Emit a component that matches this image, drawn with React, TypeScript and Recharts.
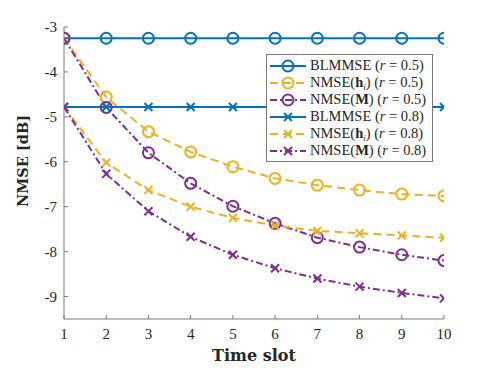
import React from 'react';
import { LineChart, Line, XAxis, YAxis, Legend, Label } from 'recharts';

const timeSlots = [1, 2, 3, 4, 5, 6, 7, 8, 9, 10];
const blmmse05 = [-3.25, -3.25, -3.25, -3.25, -3.25, -3.25, -3.25, -3.25, -3.25, -3.25];
const nmseH05 = [-3.25, -4.56, -5.33, -5.78, -6.11, -6.37, -6.52, -6.63, -6.72, -6.76];
const nmseM05 = [-3.25, -4.79, -5.8, -6.48, -6.99, -7.37, -7.69, -7.9, -8.07, -8.2];
const blmmse08 = [-4.78, -4.78, -4.78, -4.78, -4.78, -4.78, -4.78, -4.78, -4.78, -4.78];
const nmseH08 = [-4.78, -6.02, -6.63, -7.0, -7.25, -7.42, -7.54, -7.59, -7.64, -7.69];
const nmseM08 = [-4.78, -6.27, -7.1, -7.67, -8.07, -8.37, -8.6, -8.78, -8.92, -9.04];

const xTicks = [1, 2, 3, 4, 5, 6, 7, 8, 9, 10];
const yTicks = [-9, -8, -7, -6, -5, -4, -3];

const data = timeSlots.map((t, i) => ({
  t,
  b05: blmmse05[i],
  h05: nmseH05[i],
  m05: nmseM05[i],
  b08: blmmse08[i],
  h08: nmseH08[i],
  m08: nmseM08[i],
}));

const BLUE = '#0072BD';
const YELLOW = '#EDB120';
const PURPLE = '#7E2F8E';
const AXIS = '#7a7a7a';
const TEXT = '#262626';
const FONT = '"Liberation Serif", serif';
const BOLD_FONT = '"DejaVu Serif", serif';

type SeriesDef = {
  key: string;
  color: string;
  dash?: string;
  marker: 'o' | 'x';
  name: string;
  r: string;
};

const series: SeriesDef[] = [
  { key: 'b05', color: BLUE, marker: 'o', name: 'BLMMSE', r: '0.5' },
  { key: 'h05', color: YELLOW, dash: '8 5', marker: 'o', name: 'h', r: '0.5' },
  { key: 'm05', color: PURPLE, dash: '7 3 2 3', marker: 'o', name: 'M', r: '0.5' },
  { key: 'b08', color: BLUE, marker: 'x', name: 'BLMMSE', r: '0.8' },
  { key: 'h08', color: YELLOW, dash: '8 5', marker: 'x', name: 'h', r: '0.8' },
  { key: 'm08', color: PURPLE, dash: '7 3 2 3', marker: 'x', name: 'M', r: '0.8' },
];

const MarkerShape = ({ cx, cy, color, marker }: any) => {
  if (cx == null || cy == null) return null;
  if (marker === 'o') {
    return <circle cx={cx} cy={cy} r={5.5} fill="none" stroke={color} strokeWidth={2} />;
  }
  const s = 4;
  return (
    <g stroke={color} strokeWidth={2}>
      <line x1={cx - s} y1={cy - s} x2={cx + s} y2={cy + s} />
      <line x1={cx - s} y1={cy + s} x2={cx + s} y2={cy - s} />
    </g>
  );
};

const BottomTick = (props: any) => {
  const { x, y, payload } = props;
  return (
    <g>
      <line x1={x} x2={x} y1={y} y2={y - 4} stroke={AXIS} strokeWidth={1} />
      <text x={x} y={y + 20} textAnchor="middle" fontFamily={FONT} fontSize={15} fill={TEXT}>
        {payload.value}
      </text>
    </g>
  );
};

const TopTick = (props: any) => {
  const { x, y } = props;
  return <line x1={x} x2={x} y1={y} y2={y + 4} stroke={AXIS} strokeWidth={1} />;
};

const LeftTick = (props: any) => {
  const { x, y, payload } = props;
  return (
    <g>
      <line x1={x} x2={x + 4} y1={y} y2={y} stroke={AXIS} strokeWidth={1} />
      <text x={x - 7} y={y + 5} textAnchor="end" fontFamily={FONT} fontSize={15} fill={TEXT}>
        {payload.value}
      </text>
    </g>
  );
};

const RightTick = (props: any) => {
  const { x, y } = props;
  return <line x1={x} x2={x - 4} y1={y} y2={y} stroke={AXIS} strokeWidth={1} />;
};

const LegendSample = ({ s }: { s: SeriesDef }) => (
  <svg width={38} height={16} style={{ display: 'block', flex: 'none' }}>
    <line x1={1} x2={37} y1={8} y2={8} stroke={s.color} strokeWidth={2} strokeDasharray={s.dash} />
    <MarkerShape cx={19} cy={8} color={s.color} marker={s.marker} />
  </svg>
);

const LegendLabel = ({ s }: { s: SeriesDef }) => {
  let main: React.ReactNode;
  if (s.name === 'BLMMSE') main = <span>BLMMSE</span>;
  else if (s.name === 'h')
    main = (
      <span>
        NMSE(<b>h</b>
        <sub style={{ fontStyle: 'italic', fontSize: 9, verticalAlign: -3 }}>i</sub>)
      </span>
    );
  else
    main = (
      <span>
        NMSE(<b>M</b>)
      </span>
    );
  return (
    <span style={{ whiteSpace: 'pre' }}>
      {main} (<i>r</i> = {s.r})
    </span>
  );
};

const LegendBox = () => (
  <div
    style={{
      width: 167,
      height: 108,
      boxSizing: 'border-box',
      border: `1px solid ${AXIS}`,
      background: '#fff',
      padding: '2px 0 0 2px',
      fontFamily: FONT,
      fontSize: 14.5,
      color: TEXT,
    }}
  >
    {series.map((s) => (
      <div key={s.key} style={{ display: 'flex', alignItems: 'center', height: 17, gap: 3 }}>
        <LegendSample s={s} />
        <LegendLabel s={s} />
      </div>
    ))}
  </div>
);

export default function App() {
  return (
    <div style={{ position: 'absolute', left: 0, top: 0, width: 491, height: 368, background: '#fff' }}>
      <LineChart
        width={491}
        height={368}
        data={data}
        margin={{ top: 27, right: 47, bottom: 0, left: 0 }}
      >
        <XAxis
          dataKey="t"
          type="number"
          domain={[1, 10]}
          ticks={xTicks}
          allowDataOverflow
          height={49}
          tickSize={0}
          tickMargin={0}
          tickLine={false}
          axisLine={{ stroke: AXIS }}
          tick={<BottomTick />}
          interval={0}
        >
          <Label
            content={(p: any) => {
              const vb = p.viewBox;
              return (
                <text
                  x={vb.x + vb.width / 2}
                  y={361}
                  textAnchor="middle"
                  fontFamily={BOLD_FONT}
                  fontWeight="bold"
                  fontSize={16}
                  fill={TEXT}
                >
                  Time slot
                </text>
              );
            }}
          />
        </XAxis>
        <XAxis
          xAxisId="top"
          orientation="top"
          dataKey="t"
          type="number"
          domain={[1, 10]}
          ticks={xTicks}
          allowDataOverflow
          height={0}
          tickSize={0}
          tickMargin={0}
          tickLine={false}
          axisLine={{ stroke: AXIS }}
          tick={<TopTick />}
          interval={0}
        />
        <YAxis
          type="number"
          domain={[-9.5, -3]}
          ticks={yTicks}
          allowDataOverflow
          width={64}
          tickSize={0}
          tickMargin={0}
          tickLine={false}
          axisLine={{ stroke: AXIS }}
          tick={<LeftTick />}
          interval={0}
        >
          <Label
            content={() => (
              <text
                x={0}
                y={0}
                transform="translate(28 161) rotate(-90)"
                textAnchor="middle"
                fontFamily={BOLD_FONT}
                fontWeight="bold"
                fontSize={14.5}
                fill={TEXT}
              >
                NMSE [dB]
              </text>
            )}
          />
        </YAxis>
        <YAxis
          yAxisId="right"
          orientation="right"
          type="number"
          domain={[-9.5, -3]}
          ticks={yTicks}
          allowDataOverflow
          width={0}
          tickSize={0}
          tickMargin={0}
          tickLine={false}
          axisLine={{ stroke: AXIS }}
          tick={<RightTick />}
          interval={0}
        />
        {series.map((s) => (
          <Line
            key={s.key}
            dataKey={s.key}
            type="linear"
            stroke={s.color}
            strokeWidth={2}
            strokeDasharray={s.dash}
            isAnimationActive={false}
            dot={(p: any) => (
              <MarkerShape key={`${s.key}-${p.index}`} cx={p.cx} cy={p.cy} color={s.color} marker={s.marker} />
            )}
            activeDot={false}
          />
        ))}
        <Legend
          layout="vertical"
          align="center"
          verticalAlign="middle"
          content={() => <LegendBox />}
          wrapperStyle={{ position: 'absolute', left: 266, top: 54, width: 167, height: 108 }}
        />
      </LineChart>
    </div>
  );
}
